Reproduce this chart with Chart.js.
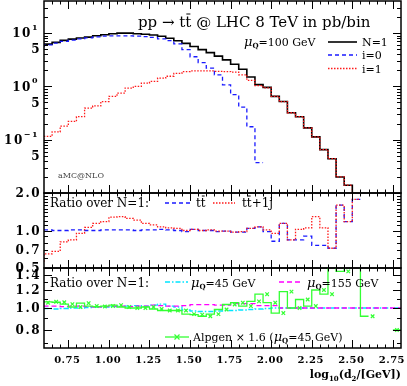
<!DOCTYPE html>
<html>
<head>
<meta charset="utf-8">
<script src="https://cdn.jsdelivr.net/npm/chart.js@4.4.1/dist/chart.umd.min.js"></script>
<style>
  body { margin: 0; background: #fff; }
  #wrap { position: relative; width: 407px; height: 386px; }
  #wrap canvas { position: absolute; left: 0; top: 0; }
</style>
</head>
<body>
<div id="wrap">
  <canvas id="topPanel" width="407" height="386"></canvas>
  <canvas id="midPanel" width="407" height="386"></canvas>
  <canvas id="botPanel" width="407" height="386"></canvas>
</div>
<script>
// bin edges in log10(d2/GeV), 44 bins of 0.05
const binEdges = [0.60, 0.65, 0.70, 0.75, 0.80, 0.85, 0.90, 0.95, 1.00, 1.05, 1.10,
  1.15, 1.20, 1.25, 1.30, 1.35, 1.40, 1.45, 1.50, 1.55, 1.60, 1.65, 1.70, 1.75, 1.80,
  1.85, 1.90, 1.95, 2.00, 2.05, 2.10, 2.15, 2.20, 2.25, 2.30, 2.35, 2.40, 2.45, 2.50,
  2.55, 2.60, 2.65, 2.70, 2.75, 2.80];
const xTickValues = [0.75, 1.00, 1.25, 1.50, 1.75, 2.00, 2.25, 2.50, 2.75];
const xTickLabels = ["0.75", "1.00", "1.25", "1.50", "1.75", "2.00", "2.25", "2.50", "2.75"];

// top panel, pb/bin
const nEq1 = [5.6, 6.2, 6.7, 7.3, 7.7, 8.1, 8.4, 8.9, 9.3, 9.7, 10.0, 10.0, 9.7, 9.5, 9.2,
  8.7, 8.0, 7.2, 6.4, 5.6, 4.9, 4.3, 3.7, 3.15, 2.6, 2.1, 1.5, 1.08, 0.96, 0.65, 0.52,
  0.32, 0.27, 0.167, 0.113, 0.065, 0.044, 0.020, 0.014, 0.008, 0, 0, 0, 0.005];
const iEq0 = [5.4, 6.0, 6.5, 7.0, 7.4, 7.8, 8.1, 8.5, 8.8, 8.9, 8.9, 8.9, 8.8, 8.6, 8.3,
  7.8, 7.2, 6.3, 4.9, 3.6, 2.8, 2.2, 1.65, 1.07, 0.70, 0.41, 0.175, 0.037, 0, 0, 0,
  0, 0, 0, 0, 0, 0, 0, 0, 0, 0, 0, 0, 0];
const iEq1 = [0.10, 0.115, 0.14, 0.18, 0.22, 0.27, 0.39, 0.43, 0.52, 0.65, 0.75, 0.93,
  1.0, 1.15, 1.24, 1.43, 1.55, 1.75, 1.9, 1.95, 1.95, 1.95, 1.92, 1.9, 1.85, 1.65, 1.3,
  1.03, 0.94, 0.65, 0.52, 0.32, 0.27, 0.167, 0.113, 0.065, 0.044, 0.020, 0.014, 0.008,
  0, 0, 0, 0.005];

// middle panel, ratio over N=1
const ratioTT = [1.01, 1.01, 1.0, 1.0, 1.01, 1.01, 1.0, 1.0, 1.01, 1.01, 1.01, 1.01, 1.0,
  1.01, 1.01, 1.02, 1.01, 1.0, 0.98, 1.02, 1.0, 1.0, 0.98, 0.99, 0.97, 0.97, 1.04, 1.07,
  0.98, 0.82, 1.14, 0.84, 0.84, 0.9, 0.76, 0.76, 0.72, 1.6, 1.18, 1.78, 0, 0, 0, 3.0];
const ratioTT1j = [0.56, 0.65, 0.68, 0.81, 0.84, 0.95, 1.06, 1.14, 1.18, 1.28, 1.29, 1.25,
  1.21, 1.14, 1.11, 1.07, 1.05, 1.04, 1.0, 1.02, 1.0, 1.01, 0.99, 0.99, 0.97, 0.98, 1.04,
  1.07, 1.01, 0.95, 1.14, 0.84, 1.02, 1.05, 1.29, 1.05, 0.72, 1.6, 1.18, 1.78, 0, 0, 0, 3.0];

// bottom panel, ratio over N=1
const ratioMu45 = [1.0, 0.995, 0.99, 0.995, 1.0, 1.0, 1.005, 1.01, 1.01, 1.015, 1.02, 1.02,
  1.025, 1.02, 1.03, 1.04, 1.02, 1.01, 0.98, 0.97, 0.965, 0.965, 0.97, 0.975, 0.975, 0.98,
  0.985, 0.99, 0.995, 1.0, 1.0, 1.0, 1.0, 1.0, 1.0, 1.0, 1.0, 1.0, 1.0, 1.0, 1.0, 1.0, 1.0, 1.0];
const ratioMu155 = [1.015, 1.02, 1.02, 1.015, 1.02, 1.02, 1.015, 1.01, 1.015, 1.02, 1.02,
  1.015, 1.02, 1.02, 1.03, 1.025, 1.02, 1.02, 1.025, 1.035, 1.035, 1.035, 1.03, 1.03, 1.045,
  1.045, 1.045, 1.025, 1.025, 1.025, 1.0, 1.0, 1.0, 1.0, 1.0, 1.0, 1.0, 1.0, 1.0, 1.0, 1.0,
  1.0, 1.0, 1.0];
const alpgen = [1.055, 1.065, 1.06, 1.04, 1.01, 1.05, 1.02, 1.015, 1.02, 1.03, 1.01, 1.0,
  1.0, 1.01, 0.99, 0.975, 0.975, 0.975, 0.94, 0.935, 0.92, 0.94, 0.985, 1.036, 1.055, 1.02,
  1.07, 1.15, 1.055, 0.95, 1.18, 1.0, 1.09, 1.02, 1.2, 1.15, 1.6, 1.45, 1.8, 1.6, 0.92,
  0, 0, 0.80];

const SERIF = "'DejaVu Serif'";
const BLUE = "#1a1aff", RED = "#ff1a1a", CYAN = "#00e5ff", MAGENTA = "#ff00ff", GREEN = "#33ff33";

function hist(vals, color, dash, width) {
  const pts = vals.map((v, i) => ({ x: binEdges[i], y: v }));
  pts.push({ x: binEdges[vals.length], y: vals[vals.length - 1] });
  return {
    data: pts, borderColor: color, borderDash: dash, borderWidth: width,
    stepped: "after", pointRadius: 0, fill: false, clip: 0
  };
}

function markers(vals, color) {
  const pts = [];
  vals.forEach((v, i) => {
    if (v > 0) pts.push({ x: (binEdges[i] + binEdges[i + 1]) / 2, y: v });
  });
  return {
    data: pts, showLine: false, pointStyle: "crossRot", pointRadius: 2.5,
    borderColor: color, pointBorderWidth: 1.2, clip: 0
  };
}

// text made of parts: {t, f, dy, over}
function textWidth(ctx, parts) {
  let w = 0;
  parts.forEach(p => { ctx.font = p.f; w += ctx.measureText(p.t).width; });
  return w;
}

function rich(ctx, x, y, parts) {
  let cx = x;
  parts.forEach(p => {
    ctx.font = p.f;
    const w = ctx.measureText(p.t).width;
    ctx.fillText(p.t, cx, y + (p.dy || 0));
    if (p.over) {
      ctx.save();
      ctx.lineWidth = 1;
      ctx.beginPath();
      ctx.moveTo(cx + 1, y - p.over);
      ctx.lineTo(cx + w - 1, y - p.over);
      ctx.stroke();
      ctx.restore();
    }
    cx += w;
  });
  return cx;
}

function sample(ctx, x0, x1, y, color, dash, width) {
  ctx.save();
  ctx.strokeStyle = color;
  ctx.lineWidth = width;
  ctx.setLineDash(dash);
  ctx.beginPath();
  ctx.moveTo(x0, y);
  ctx.lineTo(x1, y);
  ctx.stroke();
  ctx.restore();
}

function muQ(size) {
  return [
    { t: "\u03bc", f: "italic " + size + "px " + SERIF },
    { t: "Q", f: "bold 7px " + SERIF, dy: 2 }
  ];
}

function framePlugin(yMajor, yMinor, yLabels, drawExtra) {
  return {
    id: "frame",
    afterDatasetsDraw(chart) {
      const { ctx, chartArea: a } = chart;
      const xs = chart.scales.x, ys = chart.scales.y;
      ctx.save();
      ctx.strokeStyle = "#000";
      ctx.fillStyle = "#000";
      ctx.lineWidth = 1;
      ctx.beginPath();
      for (let k = 1; k < binEdges.length - 1; k++) {
        const v = binEdges[k];
        const px = Math.round(xs.getPixelForValue(v)) + 0.5;
        const major = xTickValues.some(t => Math.abs(t - v) < 1e-6);
        const len = major ? 8 : 3.5;
        ctx.moveTo(px, a.top); ctx.lineTo(px, a.top + len);
        ctx.moveTo(px, a.bottom); ctx.lineTo(px, a.bottom - len);
      }
      [[yMajor, 8], [yMinor, 4]].forEach(([list, len]) => {
        list.forEach(v => {
          const py = Math.round(ys.getPixelForValue(v)) + 0.5;
          ctx.moveTo(a.left, py); ctx.lineTo(a.left + len, py);
          ctx.moveTo(a.right, py); ctx.lineTo(a.right - len, py);
        });
      });
      ctx.stroke();
      ctx.lineWidth = 1.5;
      ctx.strokeRect(a.left, a.top, a.right - a.left, a.bottom - a.top);

      // y tick labels
      ctx.textBaseline = "middle";
      yLabels.forEach(l => {
        const py = ys.getPixelForValue(l.v);
        ctx.letterSpacing = "1.5px";
        ctx.font = "bold 12px " + SERIF;
        if (l.exp !== undefined) {
          ctx.font = "bold 8px " + SERIF;
          const we = ctx.measureText(l.exp).width;
          ctx.textAlign = "left";
          ctx.fillText(l.exp, a.left - 5 - we, py - 5);
          ctx.font = "bold 12px " + SERIF;
          ctx.textAlign = "right";
          ctx.fillText("10", a.left - 5 - we, py + 1);
        } else {
          ctx.textAlign = "right";
          ctx.fillText(l.t, a.left - 3, py + 1);
        }
      });
      ctx.letterSpacing = "0px";
      ctx.textAlign = "left";
      ctx.textBaseline = "alphabetic";
      if (drawExtra) drawExtra(ctx, chart, a, xs, ys);
      ctx.restore();
    }
  };
}

function makeChart(id, datasets, yMin, yMax, pad, plugin) {
  return new Chart(document.getElementById(id), {
    type: "line",
    data: { datasets },
    options: {
      responsive: false,
      animation: false,
      events: [],
      layout: { padding: pad },
      plugins: { legend: { display: false }, tooltip: { enabled: false } },
      scales: {
        x: {
          type: "linear", min: 0.6, max: 2.8,
          ticks: { display: false }, grid: { display: false }, border: { display: false },
          afterFit: s => { s.height = 0; }
        },
        y: {
          type: "logarithmic", min: yMin, max: yMax,
          ticks: { display: false }, grid: { display: false }, border: { display: false },
          afterFit: s => { s.width = 0; }
        }
      }
    },
    plugins: [plugin]
  });
}

// ---- top panel (first dataset is drawn on top)
const topMajor = [0.1, 1, 10];
const topMinor = [];
[0.01, 0.1, 1, 10].forEach(d => { for (let m = 2; m <= 9; m++) if (m * d < 40) topMinor.push(m * d); });
makeChart("topPanel", [
  hist(iEq1, RED, [1.5, 1.5], 1.3),
  hist(iEq0, BLUE, [4, 3], 1.3),
  hist(nEq1, "#000", [], 1.6)
], 0.01, 40, { left: 44, right: 6, top: 1, bottom: 193 },
  framePlugin(topMajor, topMinor, [
    { v: 10, exp: "1" }, { v: 5, t: "5" }, { v: 1, exp: "0" },
    { v: 0.5, t: "5" }, { v: 0.1, exp: "\u22121" }, { v: 0.05, t: "5" }
  ], (ctx) => {
    rich(ctx, 138, 27, [
      { t: "pp \u2192 t", f: "15px " + SERIF },
      { t: "t", f: "15px " + SERIF, over: 13 },
      { t: " @ LHC 8 TeV in pb/bin", f: "15px " + SERIF }
    ]);
    rich(ctx, 244, 46, muQ(13).concat([{ t: "=100 GeV", f: "11px " + SERIF }]));
    sample(ctx, 328, 357, 42, "#000", [], 1.6);
    sample(ctx, 328, 357, 55, BLUE, [4, 3], 1.3);
    sample(ctx, 328, 357, 68.5, RED, [1.5, 1.5], 1.3);
    ctx.font = "11px " + SERIF;
    ctx.fillText("N=1", 362, 46);
    ctx.fillText("i=0", 362, 59);
    ctx.fillText("i=1", 362, 72.5);
    ctx.fillStyle = "#444";
    ctx.font = "8px " + SERIF;
    ctx.fillText("aMC@NLO", 58, 178);
  }));

// ---- middle panel
makeChart("midPanel", [
  hist(ratioTT1j, RED, [1.5, 1.5], 1.3),
  hist(ratioTT, BLUE, [4, 3], 1.3)
], 0.5, 2.0, { left: 44, right: 6, top: 193, bottom: 118 },
  framePlugin([0.5, 1.0, 2.0], [0.6, 0.7, 0.8, 0.9, 1.1, 1.2, 1.3, 1.4, 1.5, 1.6, 1.7, 1.8, 1.9],
    [{ v: 2.0, t: "2.0" }, { v: 1.0, t: "1.0" }, { v: 0.7, t: "0.7" }, { v: 0.5, t: "0.5" }],
    (ctx) => {
      ctx.font = "12px " + SERIF;
      ctx.fillText("Ratio over N=1:", 50, 207);
      sample(ctx, 165, 193, 203, BLUE, [4, 3], 1.3);
      rich(ctx, 196, 207, [{ t: "t", f: "12px " + SERIF }, { t: "t", f: "12px " + SERIF, over: 11 }]);
      sample(ctx, 213, 235, 203, RED, [1.5, 1.5], 1.3);
      rich(ctx, 242, 207, [
        { t: "t", f: "12px " + SERIF }, { t: "t", f: "12px " + SERIF, over: 11 },
        { t: "+1j", f: "12px " + SERIF }
      ]);
    }));

// ---- bottom panel
makeChart("botPanel", [
  markers(alpgen, GREEN),
  hist(alpgen, GREEN, [], 1.3),
  hist(ratioMu155, MAGENTA, [5, 3], 1.3),
  hist(ratioMu45, CYAN, [5, 2, 1.5, 2], 1.3)
], 1 / 1.5, 1.5, { left: 44, right: 6, top: 268, bottom: 38 },
  framePlugin([0.8, 1.0, 1.2, 1.4], [0.7, 0.9, 1.1, 1.3, 1.5],
    [{ v: 1.4, t: "1.4" }, { v: 1.2, t: "1.2" }, { v: 1.0, t: "1.0" }, { v: 0.8, t: "0.8" }],
    (ctx, chart, a, xs) => {
      ctx.font = "12px " + SERIF;
      ctx.fillText("Ratio over N=1:", 50, 287);
      sample(ctx, 165, 188, 282, CYAN, [5, 2, 1.5, 2], 1.3);
      rich(ctx, 191, 287, muQ(13).concat([{ t: "=45 GeV", f: "11px " + SERIF }]));
      sample(ctx, 279, 303, 282, MAGENTA, [5, 3], 1.3);
      rich(ctx, 307, 287, muQ(13).concat([{ t: "=155 GeV", f: "11px " + SERIF }]));
      sample(ctx, 165, 189, 337, GREEN, [], 1.3);
      ctx.save();
      ctx.strokeStyle = GREEN;
      ctx.lineWidth = 1.2;
      ctx.beginPath();
      ctx.moveTo(174.5, 334.5); ctx.lineTo(179.5, 339.5);
      ctx.moveTo(179.5, 334.5); ctx.lineTo(174.5, 339.5);
      ctx.stroke();
      ctx.restore();
      rich(ctx, 193, 341, [{ t: "Alpgen \u00d7 1.6 (", f: "11px " + SERIF }]
        .concat(muQ(13)).concat([{ t: "=45 GeV)", f: "11px " + SERIF }]));

      // x tick labels
      ctx.font = "bold 10px " + SERIF;
      ctx.letterSpacing = "0.5px";
      ctx.textAlign = "center";
      xTickValues.forEach((v, i) => {
        ctx.fillText(xTickLabels[i], xs.getPixelForValue(v) - 1, 363);
      });
      ctx.letterSpacing = "0px";
      ctx.textAlign = "left";
      const title = [
        { t: "log", f: "bold 11px " + SERIF },
        { t: "10", f: "bold 7px " + SERIF, dy: 3 },
        { t: "(d", f: "bold 11px " + SERIF },
        { t: "2", f: "bold 7px " + SERIF, dy: 3 },
        { t: "/[GeV])", f: "bold 11px " + SERIF }
      ];
      rich(ctx, 401 - textWidth(ctx, title), 378, title);
    }));
</script>
</body>
</html>
